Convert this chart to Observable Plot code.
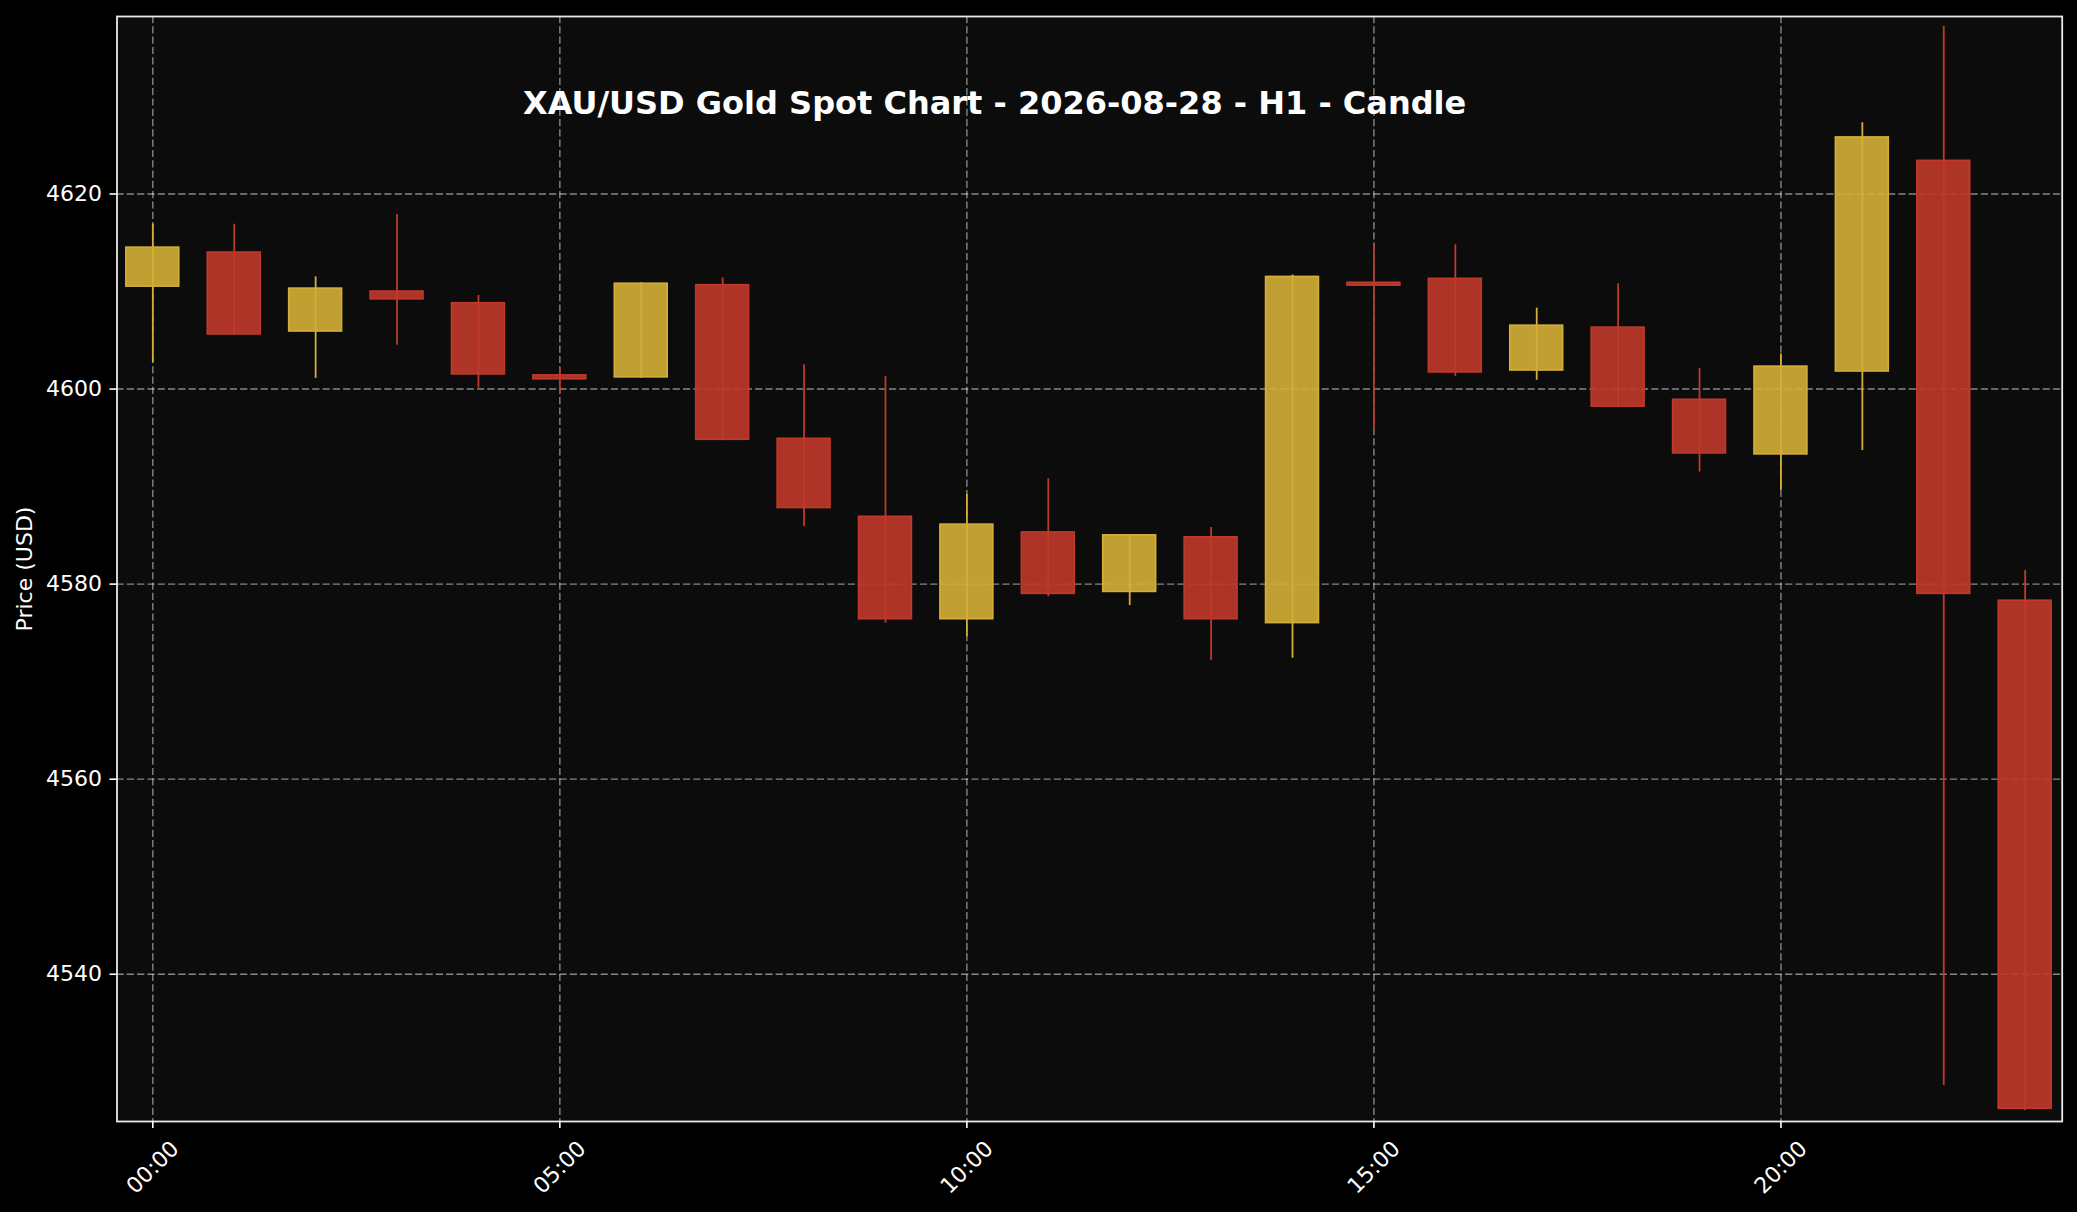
<!DOCTYPE html>
<html><head><meta charset="utf-8">
<script src="https://cdn.jsdelivr.net/npm/d3@7"></script>
<script src="https://cdn.jsdelivr.net/npm/@observablehq/plot@0.6"></script>
<style>html,body{margin:0;padding:0;background:#000;overflow:hidden;} #chart svg{display:block}</style>
</head><body><div id="chart"></div>
<script>
const hours  = [0,1,2,3,4,5,6,7,8,9,10,11,12,13,14,15,16,17,18,19,20,21,22,23];
const opens  = [4610.5,4614.0,4605.9,4610.0,4608.8,4601.4,4601.2,4610.65,4594.9,4586.9,4576.4,4585.3,4579.2,4584.8,4576.0,4610.9,4611.3,4601.9,4606.3,4598.9,4593.3,4601.8,4623.4,4578.3];
const highs  = [4616.9,4616.9,4611.5,4617.9,4609.6,4602.1,4610.9,4611.4,4602.5,4601.3,4589.2,4590.8,4585.0,4585.8,4611.7,4614.8,4614.8,4608.3,4610.8,4602.1,4603.6,4627.3,4637.2,4581.4];
const lows   = [4602.7,4605.5,4601.1,4604.5,4600.1,4599.5,4601.1,4594.7,4585.9,4576.0,4574.6,4578.7,4577.8,4572.2,4572.4,4595.8,4601.3,4600.9,4598.1,4591.5,4589.6,4593.7,4528.6,4526.0];
const closes = [4614.5,4605.6,4610.3,4609.2,4601.5,4601.0,4610.8,4594.8,4587.8,4576.4,4586.1,4579.0,4585.0,4576.4,4611.5,4610.6,4601.7,4606.5,4598.2,4593.4,4602.3,4625.8,4579.0,4526.2];
const xTickValues = [0,5,10,15,20];
const xTickLabels = ["00:00","05:00","10:00","15:00","20:00"];
const yTickValues = [4540,4560,4580,4600,4620];
const titleText = "XAU/USD Gold Spot Chart - 2026-08-28 - H1 - Candle";
const yLabel = "Price (USD)";

const candles = hours.map((h,i)=>({hour:h, open:opens[i], high:highs[i], low:lows[i], close:closes[i], dir: closes[i] >= opens[i] ? "up" : "down"}));
const xTicks = xTickValues.map((v,i)=>({v, label: xTickLabels[i]}));

const UP = "#D4AF37", DOWN = "#C0392B";
const halfWidth = 0.325;
const gridStyle = {stroke:"#fff", strokeOpacity:0.5, strokeWidth:1.4, strokeDasharray:"7.2,3.1"};

const chart = Plot.plot({
  width: 2077, height: 1212,
  marginLeft: 116.5, marginRight: 15.3, marginTop: 16, marginBottom: 91,
  x: {type: "linear", domain: [-0.44, 23.455], axis: null},
  y: {domain: [4524.9, 4638.2], axis: null},
  color: {domain: ["up","down"], range: [UP, DOWN]},
  style: {background: "#000", color: "#fff", fontFamily: "'DejaVu Sans', sans-serif", fontSize: "22px"},
  marks: [
    Plot.frame({fill: "#0c0c0c", stroke: "none"}),
    Plot.gridX(xTickValues, gridStyle),
    Plot.gridY(yTickValues, gridStyle),
    Plot.ruleX(candles, {x: "hour", y1: "low", y2: "high", stroke: "dir", strokeWidth: 1.8}),
    Plot.rect(candles, {x1: d => d.hour - halfWidth, x2: d => d.hour + halfWidth, y1: "open", y2: "close", fill: "dir", fillOpacity: 0.9, stroke: "dir", strokeWidth: 1.6}),
    Plot.frame({stroke: "#e8e8e8", strokeWidth: 1.8}),
    Plot.axisY(yTickValues, {tickSize: 7, tickPadding: 8, tickFormat: "d", fontSize: 22, color: "#fff", strokeWidth: 1.6, label: null}),
    Plot.axisX(xTickValues, {tickSize: 7, tickFormat: () => "", color: "#fff", strokeWidth: 1.6, label: null}),
    Plot.text(xTicks, {x: "v", text: "label", frameAnchor: "bottom", dy: 46, rotate: -45, textAnchor: "middle", lineAnchor: "middle", fontSize: 22, fill: "#fff"}),
    Plot.text([titleText], {text: d => d, frameAnchor: "top", dx: -95, dy: 97.5, lineAnchor: "bottom", fontSize: 32, fontWeight: "bold", fill: "#fff"}),
    Plot.text([yLabel], {text: d => d, frameAnchor: "left", dx: -92.5, rotate: -90, textAnchor: "middle", lineAnchor: "middle", fontSize: 22, fill: "#fff"})
  ]
});
document.getElementById("chart").appendChild(chart);
</script>
</body></html>
